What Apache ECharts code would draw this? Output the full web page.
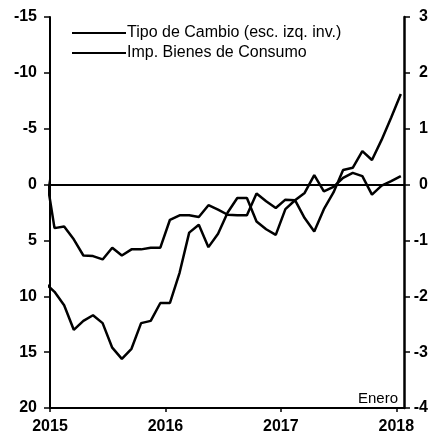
<!DOCTYPE html>
<html>
<head>
<meta charset="utf-8">
<script src="https://cdn.jsdelivr.net/npm/echarts@6/dist/echarts.min.js"></script>
<style>
html,body{margin:0;padding:0;background:#fff;}
#c{width:438px;height:442px;}
</style>
</head>
<body>
<div id="c"></div>
<script>
// Monthly observations (Dec 2014 point is clipped at the left edge)
const months = ['2014-12',
 '2015-01','2015-02','2015-03','2015-04','2015-05','2015-06','2015-07','2015-08','2015-09','2015-10','2015-11','2015-12',
 '2016-01','2016-02','2016-03','2016-04','2016-05','2016-06','2016-07','2016-08','2016-09','2016-10','2016-11','2016-12',
 '2017-01','2017-02','2017-03','2017-04','2017-05','2017-06','2017-07','2017-08','2017-09','2017-10','2017-11','2017-12',
 '2018-01'];
// Tipo de Cambio (left axis, inverted)
const tipoCambio = [8.8,
 9.6,10.8,13.0,12.2,11.7,12.4,14.6,15.6,14.7,12.4,12.2,10.6,
 10.6,7.9,4.3,3.6,5.6,4.4,2.5,1.2,1.2,3.3,4.0,4.5,
 2.2,1.4,3.0,4.2,2.2,0.7,-1.3,-1.5,-3.0,-2.2,-4.0,-6.0,
 -8.1];
// Imp. Bienes de Consumo (right axis)
const impConsumo = [0.3,
 -0.78,-0.75,-0.98,-1.27,-1.28,-1.34,-1.13,-1.27,-1.16,-1.16,-1.13,-1.13,
 -0.63,-0.55,-0.55,-0.58,-0.37,-0.45,-0.54,-0.55,-0.55,-0.16,-0.3,-0.42,
 -0.27,-0.28,-0.15,0.17,-0.12,-0.04,0.12,0.21,0.15,-0.18,-0.02,0.06,
 0.15];
const yearLabels = ['2015','2016','2017','2018'];
const leftTicks = [-15,-10,-5,0,5,10,15,20];
const rightTicks = [3,2,1,0,-1,-2,-3,-4];
const seriesNames = ['Tipo de Cambio (esc. izq. inv.)','Imp. Bienes de Consumo'];

// position of each monthly observation on the month axis (mid-month)
function monthPos(s){
  const [y,m] = s.split('-').map(Number);
  return (y-2015)*12 + (m-1) + 0.47;
}
const tcData = months.map((m,i)=>[monthPos(m), tipoCambio[i]]);
const icData = months.map((m,i)=>[monthPos(m), impConsumo[i]]);

const font = 'Liberation Sans, Arial, sans-serif';
const chart = echarts.init(document.getElementById('c'), null, {renderer:'canvas'});
chart.setOption({
  animation:false,
  backgroundColor:'#fff',
  grid:{left:50, right:34, top:17, bottom:34, containLabel:false},
  legend:{
    orient:'vertical', left:67, top:20, itemGap:4,
    itemWidth:54, itemHeight:2, icon:'rect',
    textStyle:{fontFamily:font, fontSize:16, lineHeight:16, color:'#000', padding:[0,0,0,-4]},
    data:seriesNames.map(n=>({name:n, itemStyle:{color:'#000'}}))
  },
  xAxis:{
    type:'value', min:0, max:36.8, interval:12,
    axisLine:{show:true, onZero:false, lineStyle:{color:'#000', width:2}},
    axisTick:{show:true, length:4, lineStyle:{color:'#000', width:1.5}},
    splitLine:{show:false},
    axisLabel:{fontFamily:font, fontSize:16, fontWeight:'bold', color:'#000', margin:11,
      showMaxLabel:false,
      formatter:v=>{const i=Math.round(v/12); return (Math.abs(v-i*12)<0.01 && i<yearLabels.length)?yearLabels[i]:'';}}
  },
  yAxis:[{
    type:'value', min:-15, max:20, interval:5, inverse:true, position:'left',
    axisLine:{show:true, onZero:false, lineStyle:{color:'#000', width:2}},
    axisTick:{show:true, length:6, lineStyle:{color:'#000', width:1.5}},
    splitLine:{show:false},
    axisLabel:{fontFamily:font, fontSize:16, fontWeight:'bold', color:'#000', margin:13,
      formatter:v=>leftTicks.includes(v)?String(v):''}
  },{
    type:'value', min:-4, max:3, interval:1, position:'right',
    axisLine:{show:true, onZero:false, lineStyle:{color:'#000', width:2.5}},
    axisTick:{show:true, length:6, lineStyle:{color:'#000', width:1.5}},
    splitLine:{show:false},
    axisLabel:{fontFamily:font, fontSize:16, fontWeight:'bold', color:'#000', margin:24, align:'right',
      formatter:v=>rightTicks.includes(v)?String(v):''}
  }],
  series:[{
    name:seriesNames[0], type:'line', yAxisIndex:0, data:tcData,
    symbol:'none', clip:true, color:'#000',
    lineStyle:{color:'#000', width:2.5},
    markLine:{silent:true, symbol:'none', label:{show:false},
      lineStyle:{color:'#000', width:2, type:'solid'}, data:[{yAxis:0}]}
  },{
    name:seriesNames[1], type:'line', yAxisIndex:1, data:icData,
    symbol:'none', clip:true, color:'#000',
    lineStyle:{color:'#000', width:2.5}
  }],
  graphic:[{
    type:'text', right:40, top:391,
    style:{text:'Enero', font:'15px '+font, fill:'#000'}
  }]
});
</script>
</body>
</html>
